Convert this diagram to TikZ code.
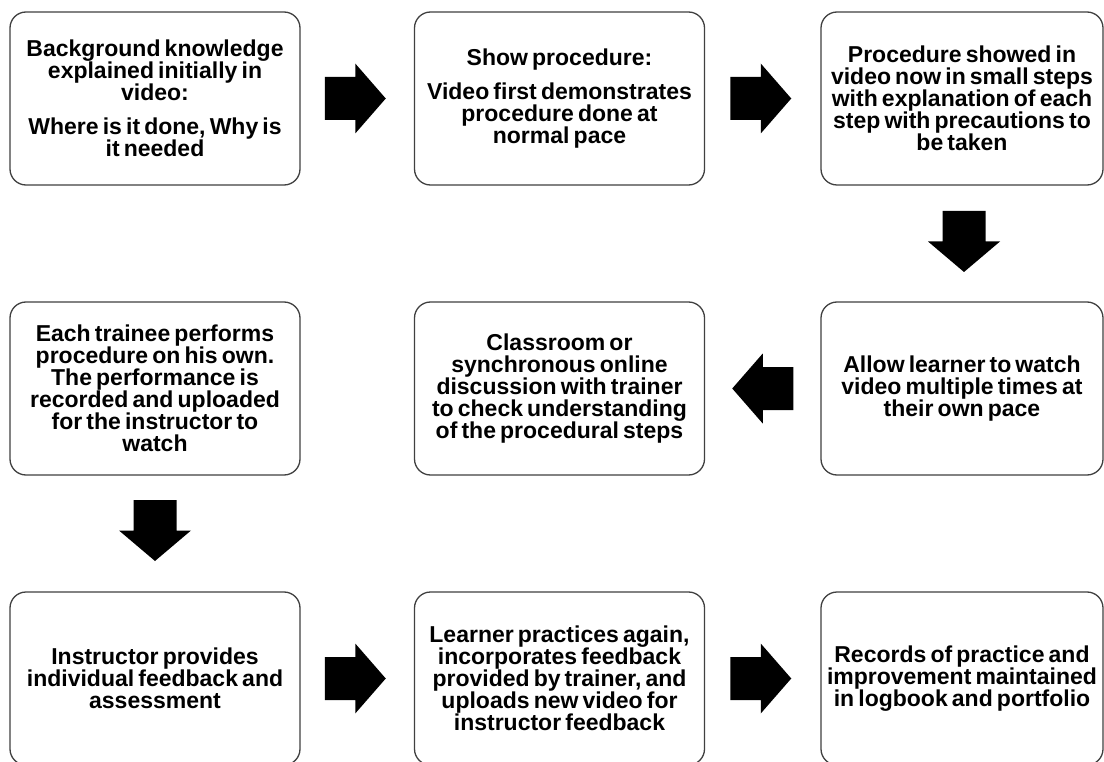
\documentclass[tikz,border=0pt]{standalone}
\usepackage{fontspec}
\setmainfont{Liberation Sans}
\usetikzlibrary{calc}
\definecolor{boxgray}{HTML}{404040}
\begin{document}
\begin{tikzpicture}[x=1pt,y=-1pt,
  box/.style={draw=boxgray, line width=1.3pt, rounded corners=16pt,
    minimum height=173pt, minimum width=#1, inner sep=0pt, align=center,
    font={\bfseries\fontsize{23}{22}\selectfont\lineskiplimit=-30pt\spaceskip=0.18em plus 0.05em minus 0.02em\relax}},
  box/.default=290pt,
  rarr/.pic={\fill[black] (-30.5,-21.5) -- (0,-21.5) -- (0,-35) -- (30.5,0) -- (0,35) -- (0,21.5) -- (-30.5,21.5) -- cycle;},
  larr/.pic={\fill[black] (30.5,-21.5) -- (0,-21.5) -- (0,-35) -- (-30.5,0) -- (0,35) -- (0,21.5) -- (30.5,21.5) -- cycle;},
  darr/.pic={\fill[black] (-21.5,-30.5) -- (21.5,-30.5) -- (21.5,0) -- (36,0) -- (0,30.5) -- (-36,0) -- (-21.5,0) -- cycle;}
]
\useasboundingbox (0,0) rectangle (1104,762);
\fill[white] (0,0) rectangle (1104,762);

\node[box] (b1) at (155,98.5) {Background knowledge\\explained initially in\\video:\\[12pt]Where is it done, Why is\\it needed};
\node[box] (b2) at (559.5,98.5) {Show procedure:\\[12pt]Video first demonstrates\\procedure done at\\normal pace};
\node[box=282pt] (b3) at (962,98.5) {Procedure showed in\\video now in small steps\\with explanation of each\\step with precautions to\\be taken};

\node[box=282pt] (b4) at (962,388.5) {Allow learner to watch\\video multiple times at\\their own pace};
\node[box] (b5) at (559.5,388.5) {Classroom or\\synchronous online\\discussion with trainer\\to check understanding\\of the procedural steps};
\node[box] (b6) at (155,388.5) {Each trainee performs\\procedure on his own.\\The performance is\\recorded and uploaded\\for the instructor to\\watch};

\node[box] (b7) at (155,678.5) {Instructor provides\\individual feedback and\\assessment};
\node[box] (b8) at (559.5,678.5) {Learner practices again,\\incorporates feedback\\provided by trainer, and\\uploads new video for\\instructor feedback};
\node[box=282pt] (b9) at (962,678.5) {Records of practice and\\improvement maintained\\in logbook and portfolio};

\pic at ($(b1.east)!0.5!(b2.west)+(-2,0)$) {rarr};
\pic at ($(b2.east)!0.5!(b3.west)+(-2,0)$) {rarr};
\pic at ($(b3.south)!0.5!(b4.north)+(2,-2)$) {darr};
\pic at ($(b4.west)!0.5!(b5.east)$) {larr};
\pic at ($(b6.south)!0.5!(b7.north)+(0,-3)$) {darr};
\pic at ($(b7.east)!0.5!(b8.west)+(-2,0)$) {rarr};
\pic at ($(b8.east)!0.5!(b9.west)+(-2,0)$) {rarr};
\end{tikzpicture}
\end{document}
